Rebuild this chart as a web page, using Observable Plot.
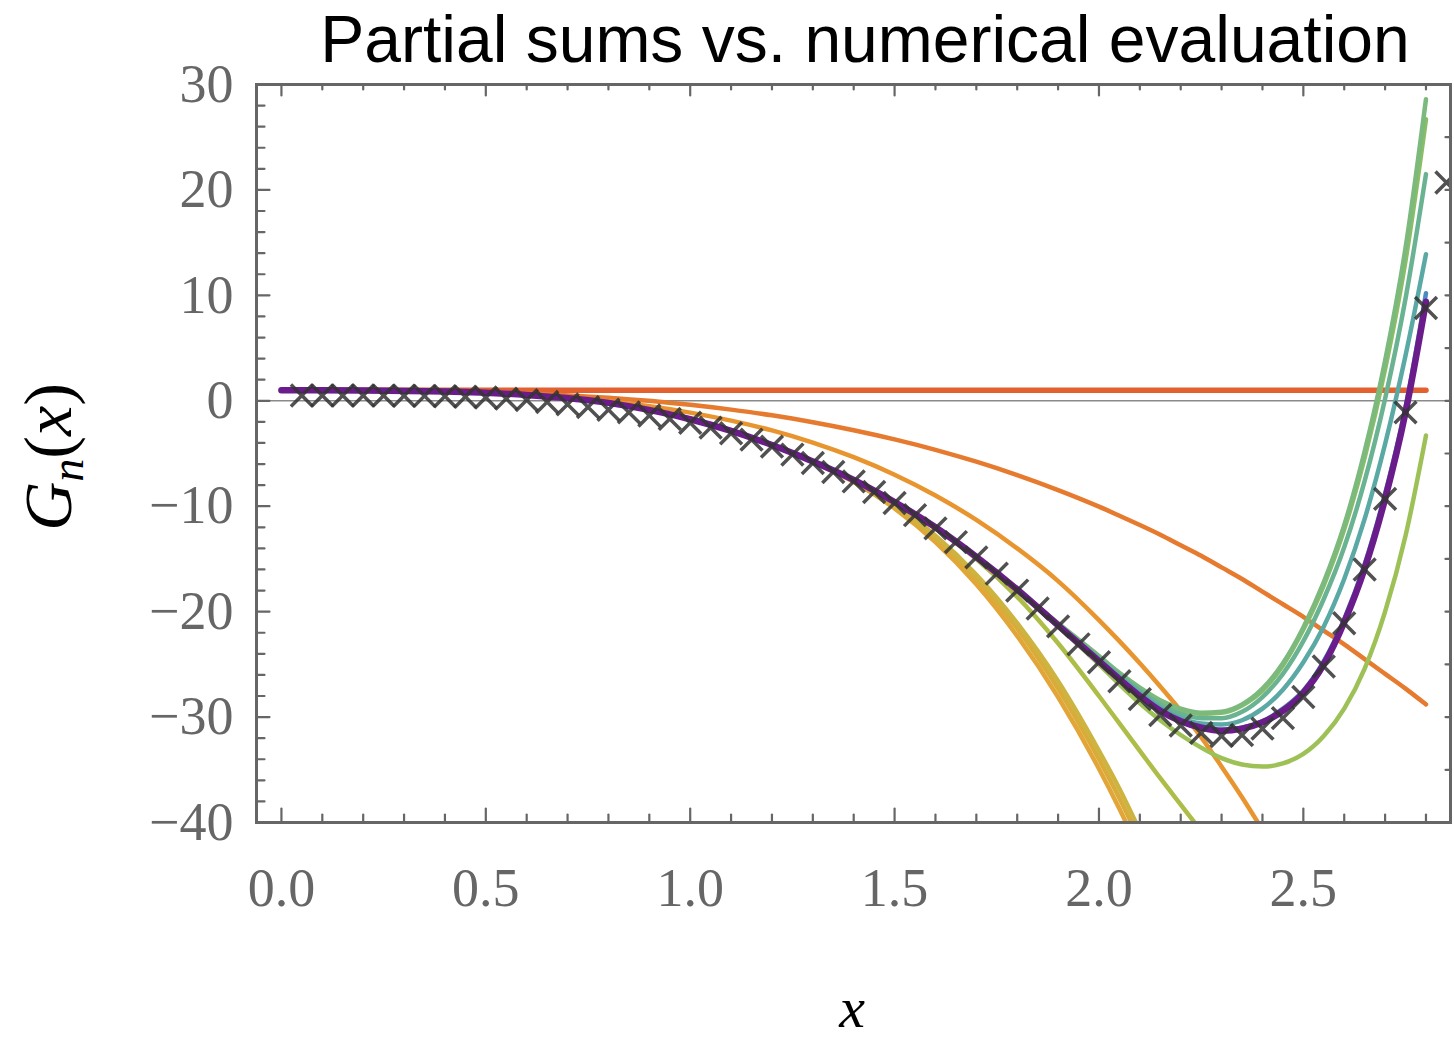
<!DOCTYPE html>
<html>
<head>
<meta charset="utf-8">
<script src="https://cdn.jsdelivr.net/npm/d3@7"></script>
<script src="https://cdn.jsdelivr.net/npm/@observablehq/plot@0.6"></script>
<style>
  body { margin: 0; background: #fff; }
  #wrap { position: relative; width: 1454px; height: 1042px; overflow: hidden; }
  #title { position: absolute; top: 6px; left: 865px; transform: translateX(-50%); white-space: nowrap;
           font-family: "Liberation Sans", Arial, sans-serif; font-size: 66px; line-height: 66px; color: #000; }
  #ylabel { position: absolute; left: 58px; top: 457px; transform: translate(-50%, -50%) rotate(-90deg); white-space: nowrap;
            font-family: "Liberation Serif", serif; font-size: 68px; line-height: 68px; color: #000; }
  #ylabel i { font-style: italic; }
  #ylabel sub { font-size: 0.68em; font-style: italic; vertical-align: -0.25em; }
  #xlabel { position: absolute; left: 852px; top: 1007px; transform: translate(-50%, -50%); white-space: nowrap;
            font-family: "Liberation Serif", serif; font-style: italic; font-size: 58px; line-height: normal; color: #000; }
</style>
</head>
<body>
<div id="wrap">
  <div id="chart"></div>
  <div id="title">Partial sums vs. numerical evaluation</div>
  <div id="ylabel"><i>G</i><sub>n</sub>(<i>x</i>)</div>
  <div id="xlabel">x</div>
</div>
<script>
// x grid for the partial-sum curves
const xs = [0, 0.2, 0.4, 0.6, 0.8, 1.0, 1.1, 1.2, 1.3, 1.4, 1.5, 1.6, 1.7, 1.8, 1.9, 2.0,
            2.05, 2.1, 2.15, 2.2, 2.25, 2.3, 2.35, 2.4, 2.45, 2.5, 2.55, 2.6, 2.65, 2.7, 2.75, 2.8];

// partial sums G_n(x), n = 0..13 (null = outside the plotted range)
const g0  = [1, 1, 1, 1, 1, 1, 1, 1, 1, 1, 1, 1, 1, 1, 1, 1, 1, 1, 1, 1, 1, 1, 1, 1, 1, 1, 1, 1, 1, 1, 1, 1];
const g1  = [1, 0.99, 0.91, 0.7, 0.29, -0.38, -0.84, -1.38, -2.03, -2.79, -3.66, -4.65, -5.78, -7.05, -8.47, -10.04,
             -10.9, -11.78, -12.7, -13.7, -14.7, -15.8, -16.9, -18.1, -19.3, -20.5, -21.8, -23.1, -24.5, -25.9, -27.3, -28.8];
const g2  = [1, 0.99, 0.87, 0.56, -0.05, -1.12, -1.88, -2.81, -3.96, -5.35, -7.01, -8.98, -11.3, -14.0, -17.1, -20.8,
             -22.8, -24.9, -27.1, -29.4, -31.9, -34.7, -37.6, -40.7, null, null, null, null, null, null, null, null];
const g3  = [1.0, 0.98, 0.88, 0.55, -0.2, -1.75, -2.85, -4.2, -5.8, -7.7, -10.2, -13.4, -17.4, -22.3, -28.1, -34.9,
             -38.7, -42.8, null, null, null, null, null, null, null, null, null, null, null, null, null, null];
const g4  = [1.0, 0.98, 0.88, 0.55, -0.2, -1.75, -2.85, -4.2, -5.8, -7.65, -10.05, -13.1, -16.9, -21.6, -27.3, -34.0,
             -37.7, -41.7, null, null, null, null, null, null, null, null, null, null, null, null, null, null];
const g5  = [1.0, 0.98, 0.88, 0.55, -0.2, -1.75, -2.85, -4.2, -5.78, -7.6, -9.9, -12.8, -16.5, -21.1, -26.6, -33.2,
             -36.8, -40.8, null, null, null, null, null, null, null, null, null, null, null, null, null, null];
const g6  = [1.0, 0.98, 0.88, 0.55, -0.2, -1.75, -2.85, -4.2, -5.75, -7.5, -9.65, -12.1, -15.0, -18.6, -23.0, -28.0,
             -30.6, -33.2, -35.8, -38.3, -40.8, null, null, null, null, null, null, null, null, null, null, null];
const g7  = [1.0, 0.98, 0.88, 0.55, -0.2, -1.75, -2.85, -4.2, -5.75, -7.5, -9.6, -12.0, -14.8, -17.9, -21.4, -25.0,
             -26.9, -28.7, -30.3, -31.7, -32.9, -33.9, -34.5, -34.7, -34.4, -33.5, -31.8, -29.2, -25.4, -20.0, -12.8, -3.3];
const g8  = [1.0, 0.98, 0.88, 0.55, -0.2, -1.75, -2.85, -4.2, -5.75, -7.5, -9.6, -12.0, -14.8, -17.9, -21.15, -24.3,
             -25.9, -27.3, -28.5, -29.3, -29.7, -29.6, -28.9, -27.5, -25.1, -21.7, -17.5, -12.2, -5.4, 3.0, 13.3, 26.7];
const g9  = [1.0, 0.98, 0.88, 0.55, -0.2, -1.75, -2.85, -4.2, -5.75, -7.5, -9.6, -12.0, -14.8, -17.9, -21.1, -24.2,
             -25.8, -27.2, -28.4, -29.2, -29.6, -29.5, -28.8, -27.3, -24.9, -21.5, -17.2, -11.8, -4.8, 3.8, 14.5, 28.6];
const g10 = [1.0, 0.98, 0.88, 0.55, -0.2, -1.75, -2.85, -4.2, -5.75, -7.5, -9.6, -12.0, -14.8, -17.9, -21.2, -24.4,
             -26.0, -27.5, -28.8, -29.7, -30.1, -30.1, -29.5, -28.1, -25.9, -22.8, -18.8, -13.9, -7.6, 0.2, 9.7, 21.5];
const g11 = [1.0, 0.98, 0.88, 0.55, -0.2, -1.75, -2.85, -4.2, -5.75, -7.5, -9.6, -12.0, -14.8, -17.9, -21.25, -24.5,
             -26.2, -27.7, -29.1, -30.1, -30.6, -30.7, -30.3, -29.2, -27.4, -24.8, -21.4, -16.9, -11.2, -4.1, 4.3, 13.9];
const g12 = [1.0, 0.98, 0.88, 0.55, -0.2, -1.75, -2.85, -4.2, -5.75, -7.5, -9.6, -12.0, -14.8, -17.9, -21.3, -24.7,
             -26.4, -27.95, -29.3, -30.3, -30.9, -31.2, -31.0, -30.4, -29.2, -27.5, -24.7, -20.7, -15.5, -8.8, -0.6, 10.2];
const g13 = [1.0, 0.98, 0.88, 0.55, -0.2, -1.75, -2.85, -4.2, -5.75, -7.5, -9.6, -12.0, -14.8, -17.9, -21.3, -24.7,
             -26.4, -28.0, -29.4, -30.4, -31.0, -31.3, -31.1, -30.5, -29.4, -27.7, -25.0, -21.0, -15.9, -9.3, -1.1, 9.4];

const partialSums = [g0, g1, g2, g3, g4, g5, g6, g7, g8, g9, g10, g11, g12, g13];
const seriesColors = ["#e2612e", "#e67a2e", "#e8952f", "#e2a537", "#d9ac39", "#cdb33f", "#aebc48",
                      "#9ec157", "#8abe66", "#7bb97c", "#69b393", "#5aa9a5", "#4a8cc2", "#6a1d8a"];
const seriesWidths = [5.5, 4.5, 4.5, 4.5, 4.5, 4.5, 4.5, 4.5, 4.5, 4.5, 4.5, 4.5, 4.5, 6.5];

// numerical evaluation (crosses)
const crossX = [0.05, 0.1, 0.15, 0.2, 0.25, 0.3, 0.35, 0.4, 0.45, 0.5, 0.55, 0.6, 0.65, 0.7, 0.75, 0.8, 0.85, 0.9, 0.95, 1.0,
                1.05, 1.1, 1.15, 1.2, 1.25, 1.3, 1.35, 1.4, 1.45, 1.5, 1.55, 1.6, 1.65, 1.7, 1.75, 1.8, 1.85, 1.9, 1.95, 2.0,
                2.05, 2.1, 2.15, 2.2, 2.25, 2.3, 2.35, 2.4, 2.45, 2.5, 2.55, 2.6, 2.65, 2.7, 2.75, 2.8, 2.85];
const crossY = [0.5, 0.5, 0.5, 0.5, 0.49, 0.48, 0.46, 0.43, 0.38, 0.31, 0.2, 0.06, -0.12, -0.34, -0.6, -0.85, -1.1, -1.4, -1.72, -2.08,
                -2.55, -3.08, -3.68, -4.35, -5.1, -5.9, -6.75, -7.65, -8.65, -9.7, -10.85, -12.1, -13.4, -14.85, -16.4, -18.0, -19.7, -21.4, -23.1, -24.8,
                -26.6, -28.3, -29.8, -30.8, -31.5, -31.8, -31.7, -31.1, -30.1, -28.1, -25.2, -21.1, -16.0, -9.3, -1.1, 8.8, 20.7];

// ticks
const xMajor = [0, 0.5, 1.0, 1.5, 2.0, 2.5];
const xMinor = [0.1, 0.2, 0.3, 0.4, 0.6, 0.7, 0.8, 0.9, 1.1, 1.2, 1.3, 1.4, 1.6, 1.7, 1.8, 1.9, 2.1, 2.2, 2.3, 2.4, 2.6, 2.7, 2.8];
const yMajor = [-40, -30, -20, -10, 0, 10, 20, 30];
const yMinor = [-38, -36, -34, -32, -28, -26, -24, -22, -18, -16, -14, -12, -8, -6, -4, -2,
                2, 4, 6, 8, 12, 14, 16, 18, 22, 24, 26, 28];
const yRight = [-35, -30, -25, -20, -15, -10, -5, 0, 5, 10, 15, 20, 25];

// build tables
const lineRows = partialSums.map((ys) => xs.map((x, i) => ({x, y: ys[i]})).filter(d => d.y != null));
const crosses = crossX.map((x, i) => ({x, y: crossY[i]}));

const tickShape = { draw(ctx, l) { ctx.moveTo(0, 0); ctx.lineTo(0, -l); } };
const axisStroke = "#666";
const tick = (data, opts) => Plot.vector(data, {anchor: "start", shape: tickShape, stroke: axisStroke, strokeWidth: 2.2, ...opts});

const chart = Plot.plot({
  width: 1454,
  height: 1042,
  marginLeft: 256,
  marginRight: 4,
  marginTop: 84,
  marginBottom: 220,
  x: {domain: [-0.061, 2.86], axis: null},
  y: {domain: [-40, 30], axis: null},
  style: {background: "white", fontFamily: "Liberation Serif, serif"},
  marks: [
    Plot.ruleY([0], {stroke: "#8a8a8a", strokeWidth: 1.5}),
    ...lineRows.map((rows, n) => Plot.line(rows, {
      x: "x", y: "y", stroke: seriesColors[n], strokeWidth: seriesWidths[n], curve: "monotone-x", clip: true
    })),
    Plot.dot(crosses, {x: "x", y: "y", symbol: "times", r: 10, stroke: "#333", strokeWidth: 3.5, strokeOpacity: 0.85, clip: true}),
    Plot.frame({stroke: axisStroke, strokeWidth: 3}),
    // bottom ticks (inward)
    tick(xMajor, {x: d => d, frameAnchor: "bottom", rotate: 0, length: 14}),
    tick(xMinor, {x: d => d, frameAnchor: "bottom", rotate: 0, length: 8}),
    // top ticks
    tick(xMajor, {x: d => d, frameAnchor: "top", rotate: 180, length: 11}),
    tick(xMinor, {x: d => d, frameAnchor: "top", rotate: 180, length: 5}),
    // left ticks
    tick(yMajor, {y: d => d, frameAnchor: "left", rotate: 90, length: 13}),
    tick(yMinor, {y: d => d, frameAnchor: "left", rotate: 90, length: 8}),
    // right ticks
    tick(yRight, {y: d => d, frameAnchor: "right", rotate: -90, length: 5}),
    // tick labels
    Plot.text(xMajor, {x: d => d, frameAnchor: "bottom", dy: 83, text: d => d3.format(".1f")(d),
      fontSize: 54, fill: "#666", fontFamily: "Liberation Serif, serif"}),
    Plot.text(yMajor, {y: d => d, frameAnchor: "left", dx: -23, textAnchor: "end", text: d => d3.format("d")(d),
      fontSize: 54, fill: "#666", fontFamily: "Liberation Serif, serif"})
  ]
});
document.getElementById("chart").appendChild(chart);
</script>
</body>
</html>
